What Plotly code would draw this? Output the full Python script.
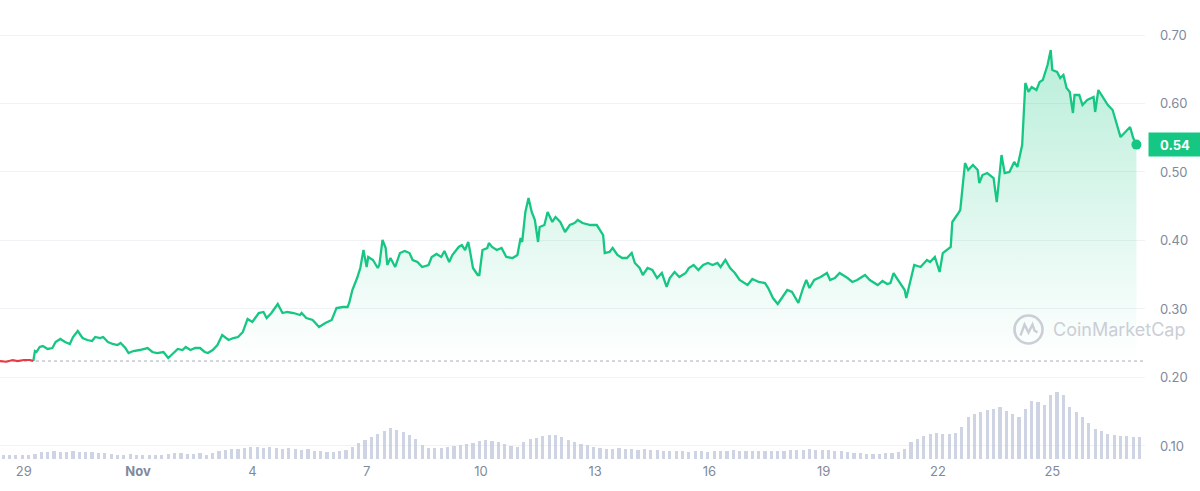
import plotly.graph_objects as go
import pandas as pd

# ---------------- data ----------------
start_time = "2023-10-28 09:00"
hours = [0,4,8,11,15,19,21,22,23,25,27,30,33,35,38,41,44,46,49,52,55,58,60,63,65,68,71,74,76,79,81,84,88,93,96,99,103,106,108,112,115,117,120,123,126,129,131,134,137,140,144,147,150,153,156,159,163,166,168,171,175,178,181,185,189,190,193,197,201,205,209,212,216,219,220,222,225,227,229,231,232,235,238,239,241,243,244,246,249,252,255,258,260,263,266,270,272,275,278,280,283,285,289,291,293,295,296,298,301,302,304,307,308,310,313,316,319,323,326,328,329,331,333,335,337,339,340,343,345,348,350,353,356,359,362,364,367,372,376,378,380,381,384,386,389,392,395,398,400,403,405,408,411,414,417,420,422,425,428,432,434,437,440,443,446,449,452,454,457,460,463,466,471,474,478,482,484,487,490,493,496,499,501,503,506,508,510,513,517,521,523,526,529,534,537,540,543,545,548,553,556,559,561,563,565,568,570,571,575,576,580,584,586,589,592,594,599,600,603,605,608,610,613,616,617,619,622,626,628,631,633,636,639,641,644,646,648,650,653,655,657,660,662,663,666,668,670,672,674,676,677,680,682,685,689,690,692,695,698,701,704,706,709,712,714,716]
price = [0.224,0.223,0.2255,0.224,0.2255,0.2255,0.224,0.2386,0.2372,0.2445,0.2459,0.2416,0.243,0.2518,0.2562,0.2518,0.2489,0.2591,0.2678,0.2576,0.2547,0.2532,0.2591,0.2576,0.2591,0.2518,0.2489,0.2474,0.2503,0.243,0.2357,0.2386,0.2401,0.243,0.2372,0.2357,0.2372,0.2284,0.2328,0.2416,0.2401,0.2445,0.2401,0.243,0.243,0.2372,0.2357,0.2401,0.2474,0.262,0.2547,0.2576,0.2591,0.2664,0.2854,0.281,0.2941,0.2956,0.2868,0.2941,0.3073,0.2941,0.2956,0.2941,0.2912,0.2941,0.2868,0.2839,0.2737,0.2795,0.2839,0.3014,0.3029,0.3029,0.3087,0.3277,0.3452,0.3598,0.3861,0.3613,0.3759,0.3715,0.3598,0.3642,0.4007,0.389,0.3642,0.3744,0.3613,0.3817,0.3846,0.3817,0.3715,0.3686,0.3613,0.3642,0.3759,0.3803,0.3759,0.3846,0.3686,0.3788,0.3905,0.3934,0.3861,0.3978,0.3861,0.3598,0.3496,0.3496,0.3861,0.389,0.3963,0.3905,0.3861,0.389,0.3759,0.3744,0.3788,0.4036,0.3978,0.4416,0.462,0.4416,0.4299,0.3978,0.4197,0.4226,0.4416,0.427,0.4343,0.427,0.4124,0.4226,0.4255,0.4299,0.4255,0.4226,0.4226,0.4153,0.408,0.3817,0.3832,0.389,0.3788,0.3744,0.3744,0.3817,0.3671,0.3598,0.3496,0.3598,0.3569,0.3452,0.3525,0.3321,0.3452,0.354,0.3467,0.3525,0.3598,0.3642,0.3569,0.3642,0.3671,0.3642,0.3671,0.3613,0.3715,0.3598,0.3525,0.3423,0.335,0.3438,0.3394,0.3379,0.3306,0.316,0.3073,0.3175,0.3277,0.3248,0.316,0.3087,0.3306,0.3423,0.3306,0.3423,0.3467,0.3525,0.3423,0.3452,0.3525,0.3452,0.3394,0.3423,0.3467,0.3496,0.3423,0.335,0.3408,0.3364,0.3379,0.3525,0.3452,0.335,0.3277,0.316,0.354,0.3642,0.3613,0.3715,0.3686,0.3759,0.354,0.3817,0.3905,0.427,0.4372,0.4445,0.5131,0.5029,0.5102,0.5029,0.4839,0.4956,0.4985,0.4912,0.456,0.5248,0.4985,0.5,0.5146,0.5073,0.5394,0.63,0.6168,0.6241,0.6197,0.6314,0.6343,0.6562,0.6781,0.6489,0.646,0.6372,0.6416,0.6226,0.6168,0.5861,0.6124,0.6124,0.5978,0.6051,0.6095,0.5876,0.6197,0.6095,0.5978,0.5905,0.5686,0.551,0.5583,0.5657,0.5496,0.54]
open_price = 0.224
red_count = 7  # first points below the opening price

# 4-hour volume bars (relative units)
volume = [4,4,4,4,4,5,7,7,8,7,7,8,7,7,7,6,6,5,4,4,5,4,4,4,4,4,5,6,6,5,5,6,4,6,8,9,10,10,11,12,12,11,12,11,10,11,10,9,10,8,8,7,7,8,9,12,16,19,22,25,28,31,29,27,24,20,14,11,11,11,12,13,14,15,16,18,19,18,17,15,13,12,17,20,21,23,24,24,22,19,17,15,14,12,11,10,10,11,10,10,9,10,9,9,8,8,8,8,7,8,8,7,8,8,8,9,8,8,8,8,8,8,8,8,9,9,9,10,9,9,9,8,8,7,6,6,5,5,5,6,6,7,10,17,20,23,25,26,25,25,26,32,42,45,47,49,50,52,48,45,42,50,58,57,54,64,67,64,52,47,42,36,30,28,25,24,23,23,22,22]
vol_step_hours = 4

tick_dates = ["2023-10-29","2023-11-01","2023-11-04","2023-11-07","2023-11-10","2023-11-13","2023-11-16","2023-11-19","2023-11-22","2023-11-25"]
tick_text = ["29","<b>Nov</b>","4","7","10","13","16","19","22","25"]
price_ticks = [0.10,0.20,0.30,0.40,0.50,0.60,0.70]

assert len(hours) == len(price), (len(hours), len(price))

t0 = pd.Timestamp(start_time)
times = [t0 + pd.Timedelta(hours=h) for h in hours]
vol_times = [t0 + pd.Timedelta(hours=vol_step_hours * i + vol_step_hours / 2) for i in range(len(volume))]

GREEN = "#16c784"
RED = "#ea3943"
GREY = "#808a9d"
WM = "#caced6"

fig = go.Figure()

# volume bars
fig.add_trace(go.Bar(
    x=vol_times, y=volume, yaxis="y2",
    marker=dict(color="rgba(190,197,218,0.75)", line=dict(width=0)),
    width=vol_step_hours * 0.5 * 3600 * 1000,
    hoverinfo="skip", showlegend=False,
))

# baseline for the green fill
g_times = times[red_count - 1:]
g_price = price[red_count - 1:]
fig.add_trace(go.Scatter(
    x=g_times, y=[open_price] * len(g_times), mode="lines",
    line=dict(width=0, color="rgba(0,0,0,0)"), hoverinfo="skip", showlegend=False,
))
fig.add_trace(go.Scatter(
    x=g_times, y=g_price, mode="lines", fill="tonexty",
    line=dict(color=GREEN, width=2.3),
    fillgradient=dict(type="vertical",
                      colorscale=[[0, "rgba(22,199,132,0.0)"], [1, "rgba(22,199,132,0.30)"]]),
    hoverinfo="skip", showlegend=False,
))
# red section below opening price
fig.add_trace(go.Scatter(
    x=times[:red_count], y=price[:red_count], mode="lines",
    line=dict(color=RED, width=2.2), hoverinfo="skip", showlegend=False,
))
# end marker
fig.add_trace(go.Scatter(
    x=[times[-1]], y=[price[-1]], mode="markers",
    marker=dict(color=GREEN, size=10), hoverinfo="skip", showlegend=False,
))

x_end = t0 + pd.Timedelta(hours=721.4)

fig.add_shape(type="line", xref="x", yref="y", x0=t0, x1=x_end, y0=open_price, y1=open_price,
              line=dict(color="#a6acb9", width=1, dash="dot"), layer="below")

# watermark
wm_y = 0.2700
fig.add_annotation(xref="paper", yref="y", x=1, y=wm_y, xanchor="right", yanchor="middle",
                   xshift=43, text="CoinMarketCap", showarrow=False,
                   font=dict(family="Inter, Roboto, sans-serif", size=18, color=WM))
logo_x = t0 + pd.Timedelta(hours=648)
fig.add_shape(type="circle", xref="x", yref="y", xsizemode="pixel", ysizemode="pixel",
              xanchor=logo_x, yanchor=wm_y,
              x0=-14, x1=14, y0=-14, y1=14, line=dict(color=WM, width=2.6))
fig.add_shape(type="path", xref="x", yref="y", xsizemode="pixel", ysizemode="pixel",
              xanchor=logo_x, yanchor=wm_y,
              path="M -8,-6 L -4,5 L 0,-3 L 4,5 L 6,-1 L 9,-3",
              line=dict(color=WM, width=2.4))

# current price label
fig.add_annotation(xref="paper", yref="y", x=1, y=price[-1], xanchor="left", yanchor="middle",
                   xshift=3, text=f"<b>{price[-1]:.2f}</b>", showarrow=False,
                   bgcolor=GREEN, width=44, height=15, borderpad=4,
                   font=dict(family="Inter, Roboto, sans-serif", size=13, color="white"))

fig.update_layout(
    width=1200, height=491,
    margin=dict(l=0, r=55, t=0, b=29),
    paper_bgcolor="white", plot_bgcolor="white",
    showlegend=False, bargap=0,
    font=dict(family="Inter, Roboto, sans-serif", color=GREY, size=13),
    xaxis=dict(range=[t0, x_end], tickvals=tick_dates, ticktext=tick_text,
               showgrid=False, zeroline=False, showline=False, ticks="",
               tickfont=dict(size=13, color=GREY)),
    yaxis=dict(side="right", range=[0.0766, 0.7511], tickvals=price_ticks,
               tickformat=".2f", showgrid=True, gridcolor="#f1f2f5", gridwidth=1,
               zeroline=False, showline=False, ticks="", ticklabelstandoff=14,
               tickfont=dict(size=13, color=GREY)),
    yaxis2=dict(overlaying="y", range=[-3, 459], visible=False, showgrid=False),
)

fig.write_html("out.html")
